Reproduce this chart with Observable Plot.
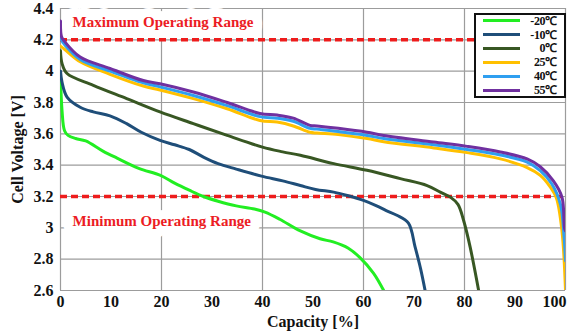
<!DOCTYPE html>
<html>
<head>
<meta charset="utf-8">
<script src="https://cdn.jsdelivr.net/npm/d3@7"></script>
<script src="https://cdn.jsdelivr.net/npm/@observablehq/plot@0.6"></script>
<style>
  body { margin: 0; background: #fff; }
  #wrap { position: relative; width: 567px; height: 333px; font-family: "Liberation Serif", "Times New Roman", serif; }
  #legend { position: absolute; left: 474px; top: 13px; width: 92px; height: 85px; box-sizing: border-box;
            border: 2px solid #111; background: #fff; }
  .row { position: absolute; left: 0; right: 0; height: 14px; }
  .row .sw { position: absolute; left: 7px; width: 37px; height: 3px; top: 5.5px; }
  .row .lb { position: absolute; right: 7px; top: 0; font-size: 12px; font-weight: bold; line-height: 14px; color: #111; letter-spacing: -0.3px; }
</style>
</head>
<body>
<div id="wrap"></div>
<script>
// ---- data ----
const series = ["-20\u2103", "-10\u2103", "0\u2103", "25\u2103", "40\u2103", "55\u2103"];

const capM20  = [0, 0.3, 0.8, 1.5, 3, 5, 8.4, 11.2, 15.5, 19.8, 22.6, 25.5, 28.3, 31.2, 34.8, 38.4, 40.5, 43.4, 47.5, 51.4, 54, 57, 59.3, 62, 64];
const voltM20 = [3.97, 3.75, 3.62, 3.59, 3.57, 3.555, 3.49, 3.445, 3.38, 3.335, 3.285, 3.24, 3.2, 3.17, 3.14, 3.12, 3.1, 3.055, 2.98, 2.93, 2.91, 2.87, 2.81, 2.71, 2.6];

const capM10  = [0, 0.3, 1.3, 3.9, 6.5, 9.8, 13.1, 16, 19.7, 22.6, 25.5, 28.4, 31.2, 34.8, 39.8, 44, 47.5, 50.5, 54.1, 57, 60, 62.6, 64.5, 66.6, 68.9, 70.2, 71.3, 72.2];
const voltM10 = [4.0, 3.93, 3.835, 3.77, 3.74, 3.715, 3.665, 3.61, 3.558, 3.53, 3.5, 3.45, 3.41, 3.375, 3.33, 3.3, 3.27, 3.245, 3.228, 3.205, 3.175, 3.14, 3.11, 3.08, 3.03, 2.88, 2.74, 2.6];

const cap0    = [0, 0.3, 1.3, 6.5, 13.1, 19.7, 26.3, 33, 40, 44, 47.5, 54.1, 60.7, 67.3, 72.6, 75.2, 77.2, 78.7, 79.8, 81.1, 82.8];
const volt0   = [4.13, 4.05, 3.985, 3.91, 3.825, 3.74, 3.665, 3.59, 3.515, 3.485, 3.463, 3.41, 3.367, 3.314, 3.27, 3.228, 3.196, 3.15, 3.05, 2.88, 2.6];

const cap25   = [0, 0.8, 3.9, 9.8, 16.4, 19.7, 26.3, 33, 39.5, 42.9, 46.1, 49.4, 50.8, 55, 60.7, 64, 73.9, 80.5, 87.1, 92.4, 95, 97, 98.2, 99.3, 100];
const volt25  = [4.16, 4.14, 4.06, 3.98, 3.905, 3.88, 3.825, 3.76, 3.685, 3.675, 3.65, 3.61, 3.605, 3.595, 3.57, 3.55, 3.51, 3.48, 3.44, 3.385, 3.335, 3.26, 3.19, 2.98, 2.6];

const cap40   = [0, 0.8, 3.9, 9.8, 16.4, 19.7, 26.3, 33, 39.5, 42.9, 46.1, 49.4, 50.8, 55, 60.7, 64, 73.9, 80.5, 87.1, 92.4, 95, 97.3, 99, 99.7, 100];
const volt40  = [4.21, 4.17, 4.075, 4.0, 3.925, 3.9, 3.845, 3.78, 3.71, 3.7, 3.68, 3.635, 3.63, 3.615, 3.59, 3.57, 3.53, 3.5, 3.465, 3.42, 3.365, 3.28, 3.15, 2.95, 2.79];

const cap55   = [0, 0.2, 0.8, 3.9, 9.8, 16.4, 19.7, 26.3, 33, 39.5, 42.9, 46.1, 49.4, 50.8, 55, 60.7, 64, 73.9, 80.5, 87.1, 92.4, 95, 97.6, 99.3, 99.8, 100];
const volt55  = [4.32, 4.22, 4.19, 4.09, 4.017, 3.94, 3.92, 3.867, 3.8, 3.73, 3.72, 3.7, 3.654, 3.65, 3.635, 3.61, 3.59, 3.548, 3.52, 3.484, 3.44, 3.39, 3.3, 3.196, 3.0, 2.98];

const xTicks    = [0, 10, 20, 30, 40, 50, 60, 70, 80, 90];
const xLastTick = [100];
const xGrid  = [0, 20, 40, 60, 80, 100];
const yTicks = [2.6, 2.8, 3, 3.2, 3.4, 3.6, 3.8, 4, 4.2, 4.4];
const limits = [4.2, 3.2];
const notes  = [
  {label: "Maximum Operating Range", c: 2.4, v: 4.314},
  {label: "Minimum Operating Range", c: 2.4, v: 3.043}
];
// ---------------------------------------

const colors = ["#22ee22", "#1f4e79", "#385723", "#ffc000", "#2f9ff0", "#7030a0"];
const capArrays  = [capM20, capM10, cap0, cap25, cap40, cap55];
const voltArrays = [voltM20, voltM10, volt0, volt25, volt40, volt55];
const rows = [];
series.forEach((s, i) => capArrays[i].forEach((c, j) => rows.push({s, c, v: voltArrays[i][j]})));

const font = "'Liberation Serif', 'Times New Roman', serif";

const chart = Plot.plot({
  width: 567,
  height: 333,
  marginLeft: 60,
  marginRight: 2,
  marginTop: 8,
  marginBottom: 43,
  style: {fontFamily: font, fontSize: "16px", fontWeight: "bold", background: "#fff", color: "#111", overflow: "visible"},
  x: {domain: [0, 100]},
  y: {domain: [2.6, 4.4]},
  color: {domain: series, range: colors},
  marks: [
    Plot.gridX(xGrid, {stroke: "#9c9c9c", strokeOpacity: 1, strokeWidth: 1.2}),
    Plot.gridY(yTicks, {stroke: "#9c9c9c", strokeOpacity: 1, strokeWidth: 1.2}),
    Plot.axisX(xTicks, {tickSize: 0, tickPadding: 5, label: null, fontSize: 16, fontWeight: "bold"}),
    Plot.axisX(xLastTick, {tickSize: 0, tickPadding: 5, label: null, fontSize: 16, fontWeight: "bold", textAnchor: "end", dx: 1}),
    Plot.axisY(yTicks, {tickSize: 0, tickPadding: 7, label: null, tickFormat: d => String(d), fontSize: 16, fontWeight: "bold"}),
    Plot.text(notes, {x: "c", y: "v", text: "label", textAnchor: "start", fill: "#ec1c24",
      stroke: "#fff", strokeWidth: 18, strokeLinejoin: "round", fontSize: 15, fontWeight: "bold"}),
    Plot.ruleY(limits, {stroke: "#ee1c1c", strokeWidth: 3.5, strokeDasharray: "7,4"}),
    Plot.line(rows, {x: "c", y: "v", z: "s", stroke: "s", strokeWidth: 3, curve: "catmull-rom", clip: true}),
    Plot.text(["Cell Voltage [V]"], {frameAnchor: "left", rotate: -90, dx: -43, textAnchor: "middle", lineAnchor: "middle", fontSize: 16, fontWeight: "bold", fill: "#111"}),
    Plot.text(["Capacity [%]"], {frameAnchor: "bottom", dy: 31, textAnchor: "middle", lineAnchor: "middle", fontSize: 16, fontWeight: "bold", fill: "#111"})
  ]
});

const wrap = document.getElementById("wrap");
wrap.appendChild(chart);

// legend
const legend = document.createElement("div");
legend.id = "legend";
series.forEach((s, i) => {
  const row = document.createElement("div");
  row.className = "row";
  row.style.top = (-1.3 + i * 13.86) + "px";
  const sw = document.createElement("span");
  sw.className = "sw";
  sw.style.background = colors[i];
  const lb = document.createElement("span");
  lb.className = "lb";
  lb.textContent = s;
  row.appendChild(sw);
  row.appendChild(lb);
  legend.appendChild(row);
});
wrap.appendChild(legend);
</script>
</body>
</html>
